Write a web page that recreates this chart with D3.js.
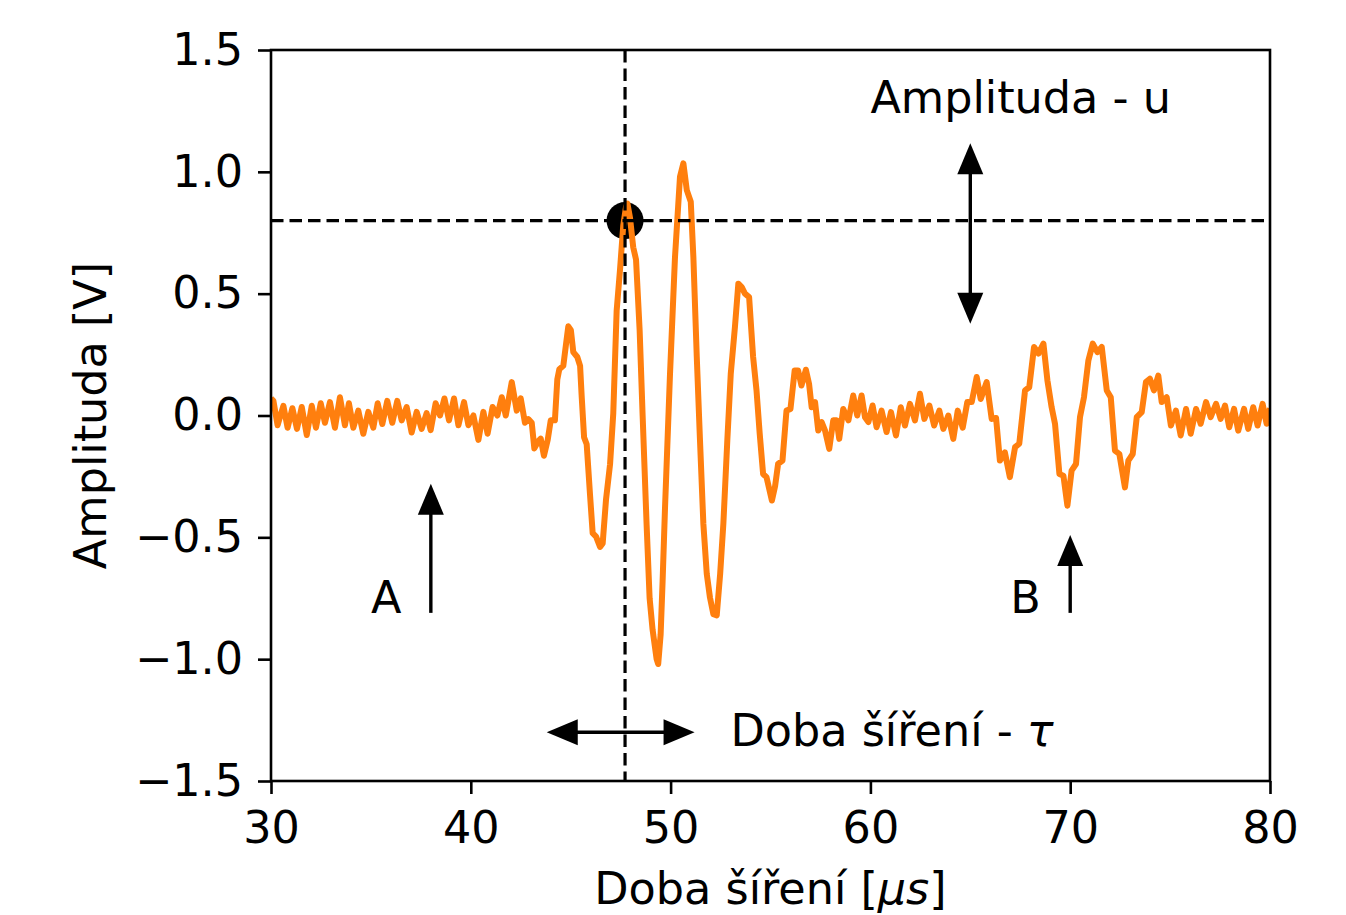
<!DOCTYPE html>
<html>
<head>
<meta charset="utf-8">
<script src="https://cdn.jsdelivr.net/npm/d3@7"></script>
<style>
  html, body { margin: 0; padding: 0; background: #fff; }
  svg text { font-family: "DejaVu Sans", sans-serif; fill: #000; }
</style>
</head>
<body>
<svg id="chart" width="1346" height="915"></svg>
<script>
// ---------------- data ----------------
const time = [
  30.00,30.12,30.33,30.62,30.83,31.07,31.30,31.54,31.79,32.04,32.25,32.49,32.70,32.95,33.20,33.45,33.70,33.90,
  34.12,34.37,34.62,34.87,35.12,35.34,35.57,35.82,36.07,36.32,36.54,36.79,37.04,37.29,37.54,37.79,37.99,38.24,
  38.46,38.68,38.91,39.16,39.38,39.66,39.88,40.13,40.38,40.63,40.84,41.09,41.33,41.55,41.75,42.05,42.30,42.50,
  42.71,42.88,43.05,43.18,43.38,43.50,43.66,43.85,44.00,44.21,44.33,44.43,44.63,44.76,44.88,45.01,45.13,45.33,
  45.47,45.55,45.67,45.80,45.97,46.10,46.27,46.47,46.60,46.77,46.97,47.13,47.30,47.47,47.63,47.77,47.84,47.97,
  48.13,48.27,48.45,48.60,48.80,48.95,49.10,49.30,49.38,49.50,49.60,49.72,49.97,50.22,50.47,50.64,50.81,51.01,
  51.14,51.31,51.47,51.64,51.81,51.97,52.14,52.31,52.48,52.64,52.84,53.01,53.22,53.39,53.56,53.72,53.93,54.13,
  54.30,54.46,54.63,54.80,55.07,55.23,55.38,55.60,55.80,56.00,56.21,56.38,56.55,56.77,56.93,57.06,57.23,57.39,
  57.56,57.73,57.94,58.14,58.31,58.44,58.64,58.90,59.14,59.34,59.56,59.73,59.90,60.11,60.31,60.56,60.81,61.03,
  61.28,61.52,61.73,61.98,62.23,62.48,62.70,62.95,63.19,63.45,63.65,63.90,64.15,64.37,64.62,64.85,65.07,65.32,
  65.52,65.82,66.07,66.29,66.48,66.73,66.98,67.24,67.45,67.74,67.95,68.19,68.41,68.66,68.86,69.07,69.24,69.46,
  69.66,69.86,70.07,70.29,70.49,70.69,70.91,71.13,71.36,71.58,71.83,72.03,72.24,72.46,72.74,72.91,73.13,73.33,
  73.58,73.79,73.99,74.19,74.41,74.58,74.83,75.04,75.29,75.53,75.80,76.03,76.30,76.53,76.80,77.03,77.30,77.53,
  77.75,77.96,78.20,78.41,78.70,78.91,79.16,79.38,79.63,79.83,80.00
];
const amplitude = [
  0.07,0.06,-0.04,0.04,-0.05,0.03,-0.055,0.035,-0.08,0.04,-0.05,0.05,-0.03,0.055,-0.05,0.075,-0.04,0.05,
  -0.05,0.02,-0.075,0.015,-0.05,0.05,-0.035,0.06,-0.03,0.06,-0.02,0.035,-0.07,0.015,-0.055,0.01,-0.06,0.05,
  0.0,0.07,-0.02,0.07,-0.04,0.055,-0.04,0.0,-0.10,0.015,-0.075,0.035,0.0,0.075,0.0,0.137,0.02,0.07,
  -0.03,-0.015,-0.03,-0.135,-0.105,-0.095,-0.165,-0.10,-0.02,-0.02,0.148,0.19,0.204,0.289,0.366,0.35,0.26,0.24,
  0.204,0.078,-0.09,-0.118,-0.329,-0.483,-0.497,-0.539,-0.525,-0.343,-0.20,0.008,0.43,0.60,0.78,0.857,0.87,0.81,
  0.69,0.64,0.35,0.0,-0.45,-0.75,-0.88,-1.00,-1.02,-0.90,-0.68,-0.38,0.17,0.65,0.98,1.035,0.925,0.877,
  0.65,0.24,-0.10,-0.445,-0.65,-0.747,-0.815,-0.82,-0.65,-0.445,-0.10,0.17,0.363,0.541,0.527,0.50,0.486,0.24,
  0.103,-0.075,-0.24,-0.253,-0.349,-0.29,-0.199,-0.185,0.02,0.027,0.185,0.185,0.123,0.188,0.13,0.034,0.055,-0.062,
  -0.027,-0.062,-0.137,-0.02,-0.02,-0.096,0.027,-0.02,0.082,0.0,0.082,-0.007,-0.027,0.041,-0.048,0.02,-0.068,0.014,
  -0.082,0.034,-0.041,0.048,-0.02,0.089,-0.014,0.041,-0.041,0.02,-0.055,0.0,-0.096,0.02,-0.05,0.055,0.055,0.158,
  0.068,0.137,-0.014,-0.01,-0.185,-0.151,-0.253,-0.13,-0.116,0.103,0.116,0.281,0.254,0.295,0.144,0.034,-0.034,-0.24,
  -0.247,-0.37,-0.226,-0.199,-0.007,0.075,0.226,0.295,0.26,0.281,0.103,0.075,-0.144,-0.158,-0.295,-0.185,-0.158,-0.007,
  0.014,0.137,0.151,0.103,0.164,0.055,0.075,-0.041,0.02,-0.082,0.027,-0.075,0.027,-0.034,0.055,-0.007,0.048,-0.014,
  0.041,-0.048,0.027,-0.062,0.027,-0.055,0.034,-0.041,0.048,-0.034,0.03
];
const xTicks = [30, 40, 50, 60, 70, 80];
const yTicks = [-1.5, -1.0, -0.5, 0.0, 0.5, 1.0, 1.5];
const xLabelMain = "Doba šíření [";
const xLabelMath = "μs";
const yLabel = "Amplituda [V]";
// marked point and reference lines
const markTime = 47.72;
const markAmp = 0.8;
// annotations (data coordinates)
const upArrows = [
  { label: "A", x: 38, from: -0.81, to: -0.28, tx: 35.0, ty: -0.81 },
  { label: "B", x: 70, from: -0.81, to: -0.49, tx: 67.0, ty: -0.81 }
];
const ampArrow = { x: 65.0, from: 0.377, to: 1.117, label: "Amplituda - u", tx: 60.0, ty: 1.24 };
const timeArrow = { y: -1.3, from: 43.8, to: 51.2, label: "Doba šíření - ", tx: 53.0, ty: -1.3 };

// ---------------- drawing ----------------
const svg = d3.select("#chart");
const FS = 44.5;
const x = d3.scaleLinear().domain([30, 80]).range([271, 1270]);
const y = d3.scaleLinear().domain([-1.5, 1.5]).range([781, 50]);

const plot = svg.append("g");
svg.append("clipPath").attr("id", "clip")
  .append("rect").attr("x", 271).attr("y", 50).attr("width", 999).attr("height", 731);

// marker circle
plot.append("circle")
  .attr("cx", x(markTime)).attr("cy", y(markAmp)).attr("r", 18.5)
  .attr("fill", "#000");

// signal
const line = d3.line().x((d, i) => x(time[i])).y((d, i) => y(amplitude[i]));
plot.append("path")
  .datum(amplitude)
  .attr("clip-path", "url(#clip)")
  .attr("d", line)
  .attr("fill", "none")
  .attr("stroke", "#ff7f0e")
  .attr("stroke-width", 6)
  .attr("stroke-linejoin", "round")
  .attr("stroke-linecap", "butt");

// dashed lines
plot.append("line")
  .attr("x1", x(markTime)).attr("x2", x(markTime))
  .attr("y1", y(1.5)).attr("y2", y(-1.5))
  .attr("stroke", "#000").attr("stroke-width", 3.2).attr("stroke-dasharray", "12.5,6");
plot.append("line")
  .attr("x1", x(30)).attr("x2", x(80))
  .attr("y1", y(markAmp)).attr("y2", y(markAmp))
  .attr("stroke", "#000").attr("stroke-width", 3.2).attr("stroke-dasharray", "12.5,6");

// arrow helpers
const HL = 31, HW = 13;
function head(px, py, dx, dy) {
  const bx = px - dx * HL, by = py - dy * HL;
  const nx = -dy, ny = dx;
  return `M${px},${py}L${bx + nx * HW},${by + ny * HW}L${bx - nx * HW},${by - ny * HW}Z`;
}
const ann = svg.append("g");
upArrows.forEach(a => {
  const px = x(a.x), y0 = y(a.from), y1 = y(a.to);
  ann.append("line").attr("x1", px).attr("x2", px).attr("y1", y0).attr("y2", y1 + HL - 2)
    .attr("stroke", "#000").attr("stroke-width", 3.4);
  ann.append("path").attr("d", head(px, y1, 0, -1)).attr("fill", "#000");
  ann.append("text").attr("x", x(a.tx)).attr("y", y(a.ty)).attr("font-size", FS).text(a.label);
});
{
  const px = x(ampArrow.x), y0 = y(ampArrow.from), y1 = y(ampArrow.to);
  ann.append("line").attr("x1", px).attr("x2", px).attr("y1", y0 - HL + 2).attr("y2", y1 + HL - 2)
    .attr("stroke", "#000").attr("stroke-width", 3.4);
  ann.append("path").attr("d", head(px, y1, 0, -1)).attr("fill", "#000");
  ann.append("path").attr("d", head(px, y0, 0, 1)).attr("fill", "#000");
  ann.append("text").attr("x", x(ampArrow.tx)).attr("y", y(ampArrow.ty)).attr("font-size", FS).text(ampArrow.label);
}
{
  const py = y(timeArrow.y), x0 = x(timeArrow.from), x1 = x(timeArrow.to);
  ann.append("line").attr("x1", x0 + HL - 2).attr("x2", x1 - HL + 2).attr("y1", py).attr("y2", py)
    .attr("stroke", "#000").attr("stroke-width", 3.4);
  ann.append("path").attr("d", head(x0, py, -1, 0)).attr("fill", "#000");
  ann.append("path").attr("d", head(x1, py, 1, 0)).attr("fill", "#000");
  const t = ann.append("text").attr("x", x(timeArrow.tx)).attr("y", py + 14).attr("font-size", FS);
  t.append("tspan").text(timeArrow.label);
  t.append("tspan").attr("font-style", "italic").text("τ");
}

// axes
const fmtY = d => d3.format(".1f")(d).replace("-", "\u2212");
const xAxis = svg.append("g").attr("transform", `translate(0,${y(-1.5)})`)
  .call(d3.axisBottom(x).tickValues(xTicks).tickSize(13).tickPadding(17).tickFormat(d3.format("d")));
const yAxis = svg.append("g").attr("transform", `translate(${x(30)},0)`)
  .call(d3.axisLeft(y).tickValues(yTicks).tickSize(13).tickPadding(15).tickFormat(fmtY));
[xAxis, yAxis].forEach(g => {
  g.select(".domain").remove();
  g.selectAll(".tick line").attr("stroke", "#000").attr("stroke-width", 2.6);
  g.selectAll(".tick text").attr("font-size", FS).attr("font-family", "DejaVu Sans").attr("fill", "#000");
});
xAxis.selectAll(".tick text").attr("dy", "0.71em");

// frame
svg.append("rect")
  .attr("x", x(30)).attr("y", y(1.5))
  .attr("width", x(80) - x(30)).attr("height", y(-1.5) - y(1.5))
  .attr("fill", "none").attr("stroke", "#000").attr("stroke-width", 2.6);

// axis labels
const xl = svg.append("text").attr("x", (x(30) + x(80)) / 2).attr("y", 904)
  .attr("text-anchor", "middle").attr("font-size", FS);
xl.append("tspan").text(xLabelMain);
xl.append("tspan").attr("font-style", "italic").text(xLabelMath);
xl.append("tspan").text("]");

svg.append("text")
  .attr("transform", `translate(106,${(y(1.5) + y(-1.5)) / 2}) rotate(-90)`)
  .attr("text-anchor", "middle").attr("font-size", FS).text(yLabel);
</script>
</body>
</html>
